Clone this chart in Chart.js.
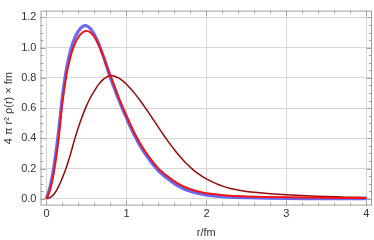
<!DOCTYPE html>
<html>
<head>
<meta charset="utf-8">
<script src="https://cdn.jsdelivr.net/npm/chart.js@4"></script>
<style>
  html, body { margin: 0; padding: 0; background: #fff; }
</style>
</head>
<body>
<canvas id="densityChart" width="374" height="240"></canvas>
<script>
// r in fm, and 4 pi r^2 rho(r) x fm
var rFine = [0, 0.05, 0.1, 0.15, 0.2, 0.25, 0.3, 0.35, 0.4, 0.45, 0.5, 0.55, 0.6, 0.65, 0.7, 0.75, 0.8, 0.85, 0.9, 0.95, 1.0,
             1.05, 1.1, 1.15, 1.2, 1.25, 1.3, 1.35, 1.4, 1.45, 1.5, 1.55, 1.6, 1.65, 1.7, 1.75, 1.8, 1.85, 1.9, 1.95, 2.0,
             2.25, 2.5, 3.0, 3.5, 4.0];
var blueVals = [0, 0.09, 0.24, 0.44, 0.68, 0.86, 0.98, 1.06, 1.11, 1.14, 1.145, 1.125, 1.085, 1.03, 0.96, 0.88, 0.80, 0.73, 0.66, 0.595, 0.535,
                0.475, 0.42, 0.37, 0.325, 0.286, 0.25, 0.216, 0.185, 0.161, 0.14, 0.119, 0.10, 0.084, 0.07, 0.059, 0.05, 0.042, 0.035, 0.03, 0.025,
                0.012, 0.007, 0.003, 0.001, 0.0005];
var redVals = [0, 0.07, 0.20, 0.39, 0.64, 0.82, 0.94, 1.02, 1.07, 1.10, 1.11, 1.10, 1.07, 1.02, 0.955, 0.885, 0.815, 0.745, 0.675, 0.61, 0.55,
               0.49, 0.435, 0.385, 0.34, 0.30, 0.265, 0.231, 0.20, 0.176, 0.155, 0.134, 0.115, 0.099, 0.085, 0.073, 0.063, 0.055, 0.048, 0.042, 0.037,
               0.022, 0.016, 0.01, 0.007, 0.005];
var rDark = [0, 0.05, 0.1, 0.15, 0.2, 0.25, 0.3, 0.35, 0.4, 0.45, 0.5, 0.55, 0.6, 0.65, 0.7, 0.75, 0.8, 0.85, 0.9, 0.95, 1.0,
             1.05, 1.1, 1.15, 1.2, 1.25, 1.3, 1.35, 1.4, 1.45, 1.5, 1.55, 1.6, 1.65, 1.7, 1.75, 1.8, 1.85, 1.9, 1.95, 2.0,
             2.1, 2.2, 2.3, 2.4, 2.5, 2.6, 2.8, 3.0, 3.25, 3.5, 3.75, 4.0];
var darkVals = [0, 0.01, 0.035, 0.08, 0.14, 0.21, 0.295, 0.39, 0.475, 0.55, 0.615, 0.67, 0.715, 0.755, 0.785, 0.805, 0.815, 0.811, 0.80, 0.782, 0.758,
                0.73, 0.699, 0.665, 0.629, 0.591, 0.552, 0.512, 0.472, 0.433, 0.395, 0.359, 0.324, 0.291, 0.261, 0.233, 0.208, 0.185, 0.165, 0.147, 0.132,
                0.105, 0.084, 0.068, 0.057, 0.049, 0.043, 0.034, 0.027, 0.02, 0.015, 0.011, 0.008];

var xTicks = [0, 1, 2, 3, 4];
var yTicks = [0, 0.2, 0.4, 0.6, 0.8, 1.0, 1.2];

function pts(xs, ys) {
    return xs.map(function(x, i) { return { x: x, y: ys[i] }; });
}

// Mathematica-like frame with small inward ticks
var framePlugin = {
    id: 'frame',
    afterDatasetsDraw: function(chart) {
        var c = chart.ctx, a = chart.chartArea;
        var xs = chart.scales.x, ys = chart.scales.y;
        c.save();
        c.strokeStyle = '#a0a0a0';
        c.lineWidth = 1;
        c.strokeRect(a.left + 0.5, a.top + 0.5, a.right - a.left - 1, a.bottom - a.top - 1);
        c.beginPath();
        for (var i = 0; i <= 20; i++) {
            var v = i * 0.2;
            var px = Math.round(xs.getPixelForValue(v)) + 0.5;
            var len = (i % 5 === 0) ? 5 : 3;
            c.moveTo(px, a.bottom); c.lineTo(px, a.bottom - len);
            c.moveTo(px, a.top); c.lineTo(px, a.top + len);
        }
        for (var j = 0; j <= 24; j++) {
            var w = j * 0.05;
            var py = Math.round(ys.getPixelForValue(w)) + 0.5;
            var l2 = (j % 4 === 0) ? 5 : 3;
            c.moveTo(a.left, py); c.lineTo(a.left + l2, py);
            c.moveTo(a.right, py); c.lineTo(a.right - l2, py);
        }
        c.stroke();
        c.restore();
    }
};

var ctx = document.getElementById('densityChart').getContext('2d');
var myChart = new Chart(ctx, {
    type: 'scatter',
    data: {
        datasets: [{
            label: 'red',
            data: pts(rFine, redVals),
            borderColor: 'rgb(240, 20, 20)',
            borderWidth: 2,
            showLine: true,
            pointRadius: 0,
            tension: 0.4
        }, {
            label: 'dark red',
            data: pts(rDark, darkVals),
            borderColor: 'rgb(150, 10, 10)',
            borderWidth: 1.5,
            showLine: true,
            pointRadius: 0,
            tension: 0.4
        }, {
            label: 'blue',
            data: pts(rFine, blueVals),
            borderColor: 'rgba(105, 105, 245, 1)',
            borderWidth: 3.2,
            showLine: true,
            pointRadius: 0,
            tension: 0.4
        }]
    },
    options: {
        responsive: false,
        maintainAspectRatio: false,
        animation: false,
        layout: { padding: { top: 1, right: 2, left: 2, bottom: 0 } },
        plugins: {
            legend: { display: false },
            tooltip: { enabled: false }
        },
        scales: {
            x: {
                type: 'linear',
                min: -0.075,
                max: 4.07,
                afterBuildTicks: function(scale) {
                    scale.ticks = xTicks.map(function(v) { return { value: v }; });
                },
                ticks: {
                    color: '#333',
                    font: { family: 'Liberation Sans', size: 11 },
                    padding: 2,
                    maxRotation: 0,
                    callback: function(v) { return String(v); }
                },
                grid: { color: '#d6d6d6', drawTicks: false },
                border: { display: false },
                title: {
                    display: true,
                    text: 'r/fm',
                    color: '#333',
                    font: { family: 'Liberation Sans', size: 11 },
                    padding: { top: 4, bottom: 0 }
                }
            },
            y: {
                type: 'linear',
                min: -0.045,
                max: 1.245,
                afterBuildTicks: function(scale) {
                    scale.ticks = yTicks.map(function(v) { return { value: v }; });
                },
                ticks: {
                    color: '#333',
                    font: { family: 'Liberation Sans', size: 11 },
                    padding: 4,
                    callback: function(v) { return v.toFixed(1); }
                },
                grid: { color: '#d6d6d6', drawTicks: false },
                border: { display: false },
                title: {
                    display: true,
                    text: '4 π r² ρ(r) × fm',
                    color: '#333',
                    font: { family: 'Liberation Sans', size: 11 },
                    padding: { top: 0, bottom: 2 }
                }
            }
        }
    },
    plugins: [framePlugin]
});
</script>
</body>
</html>
